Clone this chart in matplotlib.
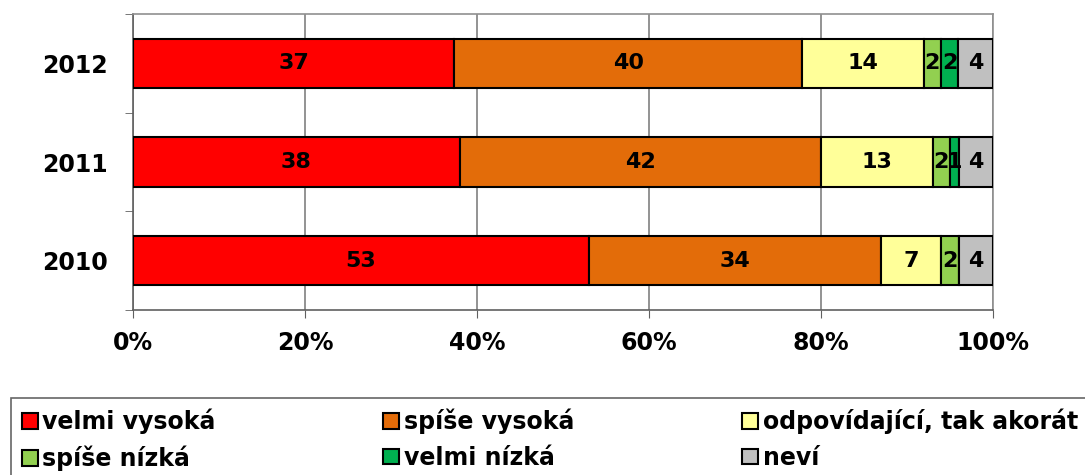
import matplotlib
matplotlib.use("Agg")
import matplotlib.pyplot as plt
import numpy as np

years = ["2010", "2011", "2012"]
series_names = ["velmi vysoká", "spíše vysoká", "odpovídající, tak akorát",
                "spíše nízká", "velmi nízká", "neví"]
velmi_vysoka = [53, 38, 37]
spise_vysoka = [34, 42, 40]
odpovidajici = [7, 13, 14]
spise_nizka = [2, 2, 2]
velmi_nizka = [0, 1, 2]
nevi = [4, 4, 4]
colors = ["#FF0000", "#E36C09", "#FFFF99", "#92D050", "#00B050", "#C0C0C0"]
xtick_labels = ["0%", "20%", "40%", "60%", "80%", "100%"]

data = np.array([velmi_vysoka, spise_vysoka, odpovidajici, spise_nizka, velmi_nizka, nevi], dtype=float)
totals = data.sum(axis=0)
pct = data / totals * 100

fig = plt.figure(figsize=(10.85, 4.75), dpi=100)
ax = fig.add_axes([133/1085, 1-310/475, (993-133)/1085, (310-14)/475])

y = np.arange(len(years))
left = np.zeros(len(years))
handles = []
for i, name in enumerate(series_names):
    b = ax.barh(y, pct[i], left=left, height=0.5, color=colors[i],
                edgecolor="black", linewidth=1.5, label=name, zorder=3)
    handles.append(b)
    for j in range(len(years)):
        if data[i, j] > 0:
            ax.text(left[j] + pct[i, j] / 2, y[j], f"{int(data[i, j])}",
                    ha="center", va="center", fontsize=16, fontweight="bold",
                    color="black", zorder=4)
    left += pct[i]

ax.set_xlim(0, 100)
ax.set_ylim(-0.5, 2.5)
ax.set_xticks(np.arange(0, 101, 20))
ax.set_xticklabels(xtick_labels, fontsize=17, fontweight="bold")
ax.set_yticks(y)
ax.set_yticklabels(years, fontsize=17, fontweight="bold")
ax.tick_params(axis="y", which="major", length=0, pad=18)
ax.set_yticks([-0.5, 0.5, 1.5, 2.5], minor=True)
ax.tick_params(axis="y", which="minor", length=6, color="#606060", direction="out")
ax.tick_params(axis="x", which="major", length=6, color="#606060", direction="out", pad=9)
ax.xaxis.grid(True, color="#808080", linewidth=1.2, zorder=0)
ax.set_axisbelow(True)
for s in ["top", "right"]:
    ax.spines[s].set_color("#909090")
    ax.spines[s].set_linewidth(1.2)
for s in ["left", "bottom"]:
    ax.spines[s].set_color("#606060")
    ax.spines[s].set_linewidth(1.2)

# reorder handles for row-major ncol=3 layout
order = [0, 3, 1, 4, 2, 5]
leg = fig.legend([handles[k] for k in order], [series_names[k] for k in order],
                 loc="upper left", bbox_to_anchor=(11/1085, 1-398/475), ncol=3,
                 bbox_transform=fig.transFigure, borderaxespad=0,
                 frameon=True, fancybox=False, edgecolor="#404040",
                 prop={"family": "DejaVu Sans", "weight": "bold", "size": 17},
                 handlelength=0.68, handleheight=0.64, handletextpad=0.2,
                 columnspacing=7.1, borderpad=0.45, labelspacing=0.5)
leg.get_frame().set_linewidth(1.2)
for h in leg.legend_handles:
    h.set_linewidth(1.5)

fig.savefig("out.png", dpi=100)
